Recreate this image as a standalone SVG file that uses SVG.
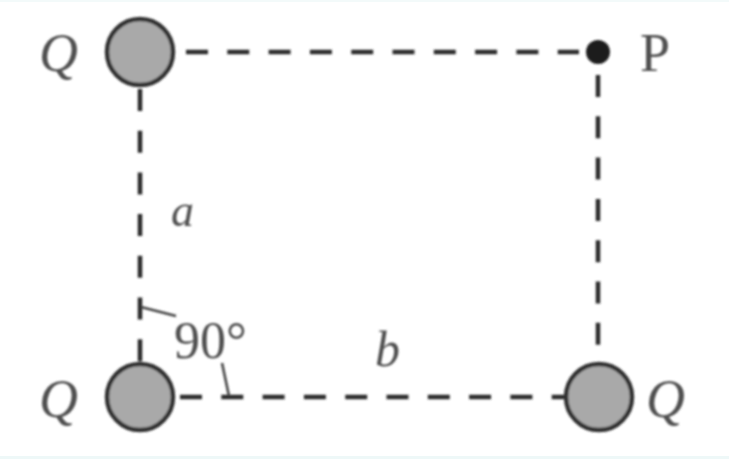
<svg xmlns="http://www.w3.org/2000/svg" width="729" height="459" viewBox="0 0 729 459">
<defs><filter id="soft" x="-5%" y="-5%" width="110%" height="110%"><feGaussianBlur stdDeviation="0.8"/></filter></defs>
<style>
.dash{fill:none;stroke:#2b2b2b;stroke-width:4.5;stroke-dasharray:22 19.3}
.tick{fill:none;stroke:#444444;stroke-width:2.6}
.charge{fill:#a9a9a9;stroke:#333333;stroke-width:4.5}
text{font-family:"Liberation Serif","Times New Roman",serif;fill:#505050}
.it{font-style:italic}
</style>
<rect width="729" height="459" fill="#ffffff"/>
<rect y="456" width="729" height="3" fill="#eef8f8"/>
<rect width="729" height="2" fill="#f3fafa"/>
<g filter="url(#soft)">
<g id="connectors">
<path class="dash" d="M186 52H579"/>
<path class="dash" style="stroke-dasharray:22 19.7" d="M140 89V362"/>
<path class="dash" d="M598 75V346"/>
<path class="dash" d="M180 397H566"/>
<path class="tick" d="M141 307L176 316"/>
<path class="tick" d="M229 396L222 363"/>
</g>
<g id="charge-top-left"><circle class="charge" cx="140" cy="52" r="33"/><text class="it" x="39" y="71" font-size="54">Q</text></g>
<g id="point-p"><circle cx="598" cy="52" r="12" fill="#1c1c1c"/><text x="640" y="71" font-size="54">P</text></g>
<g id="charge-bottom-left"><circle class="charge" cx="140" cy="397" r="33"/><text class="it" x="39" y="417" font-size="54">Q</text></g>
<g id="charge-bottom-right"><circle class="charge" cx="599" cy="397" r="33"/><text class="it" x="646" y="417" font-size="54">Q</text></g>
<g id="labels">
<text class="it" x="171" y="226" font-size="46">a</text>
<text class="it" x="375" y="366" font-size="50">b</text>
<text x="174" y="358" font-size="52">90°</text>
</g>
</g>
</svg>
